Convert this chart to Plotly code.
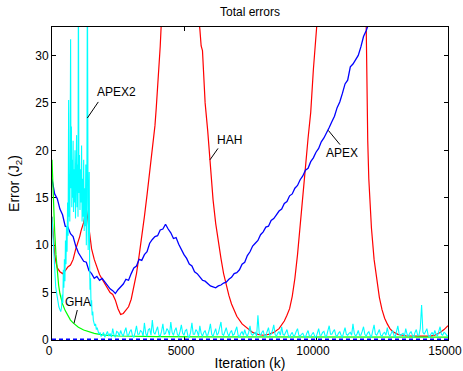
import plotly.graph_objects as go

# ---- APEX (blue), sampled every 100 iterations from 0 to 12000, then two points beyond ----
apex_start = 0
apex_step = 100
apex_v = [17.0, 15.4, 14.9, 13.8, 13.2, 12.0, 11.9, 11.2, 10.9, 9.9,
          9.2, 8.7, 8.3, 8.2, 7.3, 7.0, 6.5, 6.7, 6.3, 6.5,
          6.1, 5.8, 5.4, 5.2, 4.9, 5.3, 5.6, 5.9, 6.4, 6.3,
          7.0, 7.6, 7.8, 8.5, 8.4, 9.0, 9.3, 10.2, 10.6, 10.9,
          11.0, 11.6, 11.7, 12.2, 11.7, 11.3, 10.7, 10.8, 10.1, 9.5,
          9.0, 8.6, 8.0, 7.8, 7.2, 7.0, 6.7, 6.3, 6.2, 5.9,
          5.7, 5.6, 5.5, 5.7, 5.8, 6.0, 6.1, 6.4, 6.6, 7.0,
          7.1, 7.4, 8.0, 8.2, 8.9, 9.3, 9.9, 10.2, 10.5, 11.1,
          11.4, 11.9, 12.0, 12.6, 12.8, 13.2, 13.6, 13.8, 14.4, 14.6,
          15.2, 15.4, 16.0, 16.3, 16.9, 17.3, 17.9, 18.1, 18.8, 19.2,
          19.8, 20.2, 20.9, 21.3, 21.8, 22.4, 23.0, 23.6, 24.5, 25.1,
          26.0, 27.0, 27.4, 28.8, 29.1, 29.6, 30.0, 30.9, 32.0, 32.6,
          33.4, 34.0, 35.0]

# ---- HAH (red) ----
hah_k = [0, 30, 60, 100, 150, 200, 300, 400, 500, 600, 700, 800, 900, 1000, 1050, 1100, 1150,
         1200, 1250, 1300, 1350, 1400, 1450, 1500, 1600, 1700, 1800, 1900, 2000, 2100, 2200,
         2300, 2400, 2500, 2600, 2700, 2800, 2900, 3000, 3100, 3200, 3300, 3400, 3500, 3600,
         3700, 3800, 3900, 3950, 4000, 4050, 4100, 4150, 4500, 5000, 5400, 5550, 5600, 5650,
         5700, 5750, 5800, 5900, 6000, 6100, 6200, 6300, 6400, 6500, 6600, 6700, 6800, 6900,
         7000, 7200, 7400, 7600, 7800, 8000, 8200, 8400, 8600, 8800, 8900, 9000, 9100, 9200,
         9300, 9400, 9500, 9600, 9700, 9800, 9900, 10000, 10500, 11000, 11500, 11900, 11930,
         11960, 12000, 12100, 12200, 12300, 12400, 12500, 12600, 12700, 12800, 12900, 13100,
         13400, 13700, 14000, 14300, 14500, 14700, 14850, 15000]
hah_v = [13.0, 11.5, 10.5, 9.0, 8.2, 7.6, 7.2, 7.0, 7.3, 7.7, 7.9, 8.5, 9.6, 10.4, 10.9, 11.5, 11.9,
         12.4, 13.2, 13.8, 12.9, 11.6, 10.4, 9.6, 8.5, 7.6, 6.9, 6.4, 5.9, 5.4, 5.0,
         4.8, 4.2, 3.3, 2.7, 2.8, 3.1, 3.5, 4.3, 5.5, 7.0, 8.9, 10.8, 13.0, 15.3,
         17.6, 20.0, 22.6, 24.5, 26.5, 28.5, 31.0, 34.0, 45.0, 55.0, 45.0, 34.0, 32.8, 31.0,
         30.5, 28.0, 25.0, 22.0, 18.5, 14.8, 12.3, 10.2, 8.6, 7.0, 5.8, 4.7, 3.8, 3.1,
         2.5, 1.7, 1.2, 0.8, 0.6, 0.5, 0.6, 0.8, 1.2, 2.0, 2.6, 3.3, 4.6, 6.5,
         9.0, 11.8, 15.0, 18.2, 21.3, 24.0, 28.5, 33.5, 50.0, 55.0, 45.0, 33.5, 25.0,
         21.0, 17.0, 11.8, 8.5, 6.3, 4.5, 3.2, 2.3, 1.7, 1.2, 0.9, 0.6,
         0.45, 0.4, 0.4, 0.4, 0.5, 0.8, 1.1, 1.5]

# ---- APEX2 (cyan) ----
apex2_head_k = [0, 20, 40, 60, 80, 100, 120, 140, 160, 180, 200, 230, 260, 300, 330, 360, 390,
                410, 430, 450, 470, 490, 510, 530, 550, 570, 590, 610, 630, 645, 660, 675, 690,
                705, 720, 735, 750, 765, 780, 800, 815, 830, 850, 870, 890, 910, 930, 950, 970,
                985, 1000, 1020, 1040, 1060, 1080, 1100, 1120, 1140, 1160, 1180, 1200, 1220,
                1240, 1260, 1280, 1300, 1320, 1340, 1355, 1370, 1390, 1410, 1425, 1440, 1460,
                1480, 1500, 1520, 1545, 1565, 1590, 1620, 1650, 1680, 1710, 1750, 1780, 1820,
                1860]
apex2_head_v = [13.0, 11.8, 10.5, 9.2, 8.0, 7.0, 6.3, 5.6, 5.2, 4.8, 4.4, 3.9, 3.5, 3.2, 3.0, 3.4, 4.8,
                3.9, 7.4, 5.5, 8.5, 6.2, 10.5, 8.0, 12.0, 9.3, 14.5, 11.0, 25.3, 13.0, 17.5, 12.5, 20.0,
                31.7, 16.0, 22.5, 14.0, 19.0, 15.0, 21.0, 13.5, 18.0, 14.5, 20.0, 12.8, 17.0, 21.6, 14.0, 18.5,
                13.0, 40.0, 15.5, 19.5, 13.7, 18.0, 14.5, 20.5, 12.5, 17.0, 13.0, 19.0, 11.5,
                16.0, 12.0, 18.5, 10.0, 15.0, 40.0, 16.6, 9.5, 14.0, 17.7, 8.0, 5.3, 6.5,
                3.5, 4.2, 2.6, 3.0, 2.1, 1.9, 1.5, 1.7, 1.1, 1.3, 0.9, 0.6, 0.8,
                0.4]
apex2_tail_start = 1900
apex2_tail_step = 50
apex2_tail_v = [0.5, 0.8, 0.3, 0.6, 0.9, 0.4, 0.7, 0.3, 1.2, 0.5, 0.3, 0.9, 0.8, 0.4, 1.0, 0.6, 0.4, 0.9, 1.3, 0.5,
                0.5, 0.9, 1.1, 0.4, 0.3, 0.8, 1.5, 0.6, 0.6, 1.0, 0.9, 0.4, 1.8, 0.7, 0.4, 1.1, 1.2, 0.5, 2.1, 0.8,
                0.6, 1.0, 1.4, 0.5, 0.4, 0.9, 1.7, 0.6, 0.7, 1.2, 1.0, 0.5, 1.9, 0.8, 0.5, 1.0, 1.3, 0.6, 0.4, 0.9,
                1.6, 0.7, 0.5, 1.0, 1.1, 0.4, 0.3, 0.8, 1.8, 0.6, 0.6, 1.1, 0.9, 0.4, 1.5, 0.7, 0.4, 0.8, 1.0, 0.5,
                0.5, 1.0, 1.7, 0.6, 0.4, 0.8, 1.2, 0.5, 0.7, 1.3, 1.9, 0.6, 0.5, 0.9, 1.3, 0.7, 0.4, 0.8, 1.0, 0.5,
                0.6, 1.0, 1.4, 0.5, 0.3, 0.7, 0.9, 0.5, 1.1, 0.6, 0.4, 0.8, 1.5, 0.6, 0.5, 0.7, 0.8, 0.4, 2.6, 0.7,
                0.5, 0.8, 1.0, 0.4, 0.4, 0.9, 1.3, 0.5, 0.6, 1.0, 1.6, 0.6, 0.4, 0.7, 0.9, 0.5, 1.4, 0.6, 0.5, 0.8,
                1.1, 0.5, 0.3, 0.6, 0.8, 0.4, 0.5, 0.9, 1.2, 0.5, 0.4, 0.6, 0.7, 0.4, 0.3, 0.7, 1.0, 0.4, 0.4, 0.6,
                0.8, 0.4, 0.3, 0.7, 1.2, 0.5, 0.5, 0.8, 0.9, 0.4, 0.4, 1.0, 1.5, 0.6, 0.6, 0.9, 1.1, 0.5, 0.4, 0.7,
                0.9, 0.5, 0.3, 0.8, 1.3, 0.6, 0.5, 0.7, 0.8, 0.5, 1.7, 0.7, 0.4, 0.6, 1.0, 0.5, 0.5, 0.9, 1.4, 0.6,
                0.4, 0.7, 0.9, 0.5, 0.3, 1.0, 1.6, 0.6, 0.5, 0.8, 1.1, 0.5, 0.4, 0.7, 0.8, 0.5, 1.3, 0.6, 0.4, 0.7,
                1.0, 0.5, 0.3, 0.9, 1.5, 0.6, 0.5, 0.6, 0.7, 0.4, 1.2, 0.6, 0.4, 0.7, 0.9, 0.5, 0.3, 0.8, 1.1, 0.5,
                0.5, 1.2, 3.7, 0.8, 0.6, 0.9, 1.2, 0.5, 0.3, 0.6, 0.8, 0.5, 1.0, 0.6, 0.4, 0.9, 1.4, 0.6, 0.5, 0.8,
                0.7, 0.5, 0.4]

# ---- GHA (green) ----
gha_k = [0, 30, 60, 100, 150, 200, 250, 300, 400, 500, 600, 700, 800, 900, 1000, 1200, 1400,
         1600, 1800, 2000, 2500, 3000, 4000, 6000, 10000, 15000]
gha_v = [19.0, 16.0, 13.5, 11.5, 9.0, 7.2, 5.8, 4.9, 3.8, 3.1, 2.6, 2.1, 1.8, 1.55, 1.35, 1.05, 0.85,
         0.7, 0.6, 0.52, 0.42, 0.38, 0.35, 0.33, 0.32, 0.3]

# ---- dashed baseline (blue) ----
base_k = [0, 15000]
base_v = [0.0, 0.0]

x_ticks = [0, 5000, 10000, 15000]
y_ticks = [0, 5, 10, 15, 20, 25, 30]

apex_k = [apex_start + i * apex_step for i in range(len(apex_v) - 2)] + [12100, 12200]
apex2_k = apex2_head_k + [apex2_tail_start + i * apex2_tail_step for i in range(len(apex2_tail_v))]
apex2_v = apex2_head_v + apex2_tail_v

FONT = "Liberation Sans, Arial, sans-serif"

fig = go.Figure()
fig.add_trace(go.Scatter(x=hah_k, y=hah_v, mode="lines", line=dict(color="#FF0000", width=1.2),
                         name="HAH"))
fig.add_trace(go.Scatter(x=apex_k, y=apex_v, mode="lines", line=dict(color="#0000FF", width=1.3),
                         name="APEX"))
fig.add_trace(go.Scatter(x=gha_k, y=gha_v, mode="lines", line=dict(color="#00FF00", width=1.2),
                         name="GHA"))
fig.add_trace(go.Scatter(x=apex2_k, y=apex2_v, mode="lines", line=dict(color="#00FFFF", width=1.1),
                         name="APEX2"))
fig.add_trace(go.Scatter(x=base_k, y=base_v, mode="lines",
                         line=dict(color="#0000FF", width=3, dash="4px,3px"), name="base"))

# annotation labels (text, text pos, pointer line)
labels = [
    ("APEX2", 2443, 26.1, (1754, 25.1), (1337, 23.4)),
    ("HAH", 6742, 21.1, (6288, 20.2), (5985, 19.0)),
    ("APEX", 10985, 19.7, (10909, 20.6), (10466, 22.1)),
    ("GHA", 966, 4.0, (958, 3.16), (833, 1.76)),
]
for txt, tx, ty, p0, p1 in labels:
    fig.add_annotation(x=tx, y=ty, text=txt, showarrow=False, xref="x", yref="y",
                       font=dict(family=FONT, size=12, color="black"))
    fig.add_shape(type="line", x0=p0[0], y0=p0[1], x1=p1[0], y1=p1[1], xref="x", yref="y",
                  line=dict(color="black", width=1))

axis_common = dict(showline=True, linecolor="black", linewidth=1, mirror="ticks",
                   ticks="inside", ticklen=4, tickcolor="black", showgrid=False,
                   zeroline=False, automargin=False, layer="below traces",
                   ticklabeloverflow="allow",
                   tickfont=dict(family=FONT, size=12, color="black"))

fig.update_layout(
    width=463, height=371,
    margin=dict(l=52, r=15, t=27, b=31),
    paper_bgcolor="white", plot_bgcolor="white",
    showlegend=False,
    font=dict(family=FONT, size=12, color="black"),
    title=dict(text="Total errors", x=0.54, xanchor="center", y=1 - 12 / 371, yanchor="middle",
               yref="container", font=dict(family=FONT, size=12, color="black")),
    xaxis=dict(range=[0, 15000], tickvals=x_ticks, ticktext=[str(v) for v in x_ticks],
               ticklabelshift=-3,
               title=dict(text="Iteration (k)", standoff=4), **axis_common),
    yaxis=dict(range=[0, 33], tickvals=y_ticks, ticktext=[str(v) for v in y_ticks],
               title=dict(text="Error (J<sub>2</sub>)", standoff=12), **axis_common),
)

fig.write_html("out.html")
